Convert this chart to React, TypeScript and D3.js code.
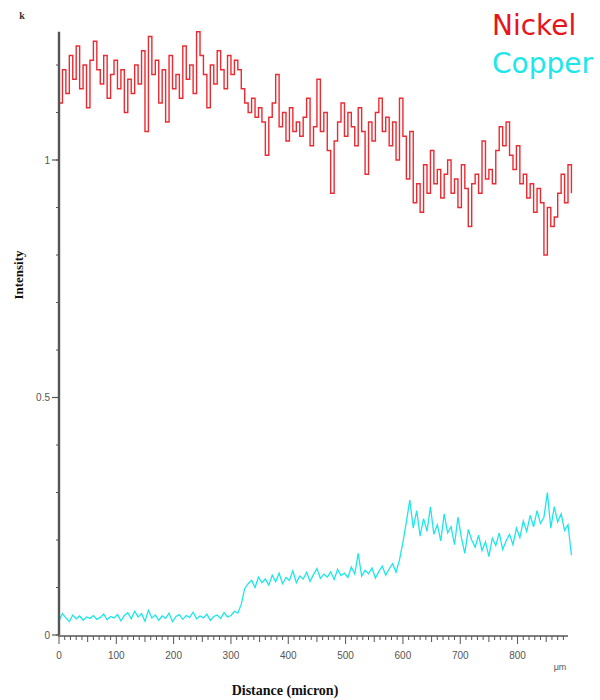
import React from "react";
import * as d3 from "d3";

const STEP = 6; // micron between samples
const nickel = [
  1.12, 1.19, 1.14, 1.22, 1.17, 1.24, 1.15, 1.20, 1.11, 1.21,
  1.25, 1.19, 1.16, 1.22, 1.13, 1.18, 1.21, 1.15, 1.19, 1.10,
  1.17, 1.14, 1.20, 1.16, 1.23, 1.06, 1.26, 1.18, 1.21, 1.12,
  1.19, 1.08, 1.22, 1.15, 1.18, 1.13, 1.24, 1.17, 1.20, 1.14,
  1.27, 1.22, 1.18, 1.11, 1.20, 1.16, 1.23, 1.19, 1.15, 1.22,
  1.18, 1.21, 1.19, 1.15, 1.12, 1.10, 1.13, 1.09, 1.11, 1.08,
  1.01, 1.09, 1.12, 1.18, 1.07, 1.10, 1.04, 1.11, 1.06, 1.08,
  1.05, 1.09, 1.13, 1.03, 1.07, 1.17, 1.06, 1.10, 1.02, 0.93,
  1.04, 1.08, 1.12, 1.05, 1.10, 1.07, 1.03, 1.11, 1.06, 0.97,
  1.08, 1.04, 1.10, 1.13, 1.06, 1.09, 1.03, 1.08, 1.00, 1.13,
  1.05, 0.96, 1.06, 0.91, 0.95, 0.89, 0.99, 0.93, 1.02, 0.95,
  0.98, 0.92, 0.97, 1.00, 0.93, 0.96, 0.90, 0.99, 0.94, 0.86,
  0.95, 0.97, 0.93, 1.04, 0.96, 0.98, 0.95, 1.02, 1.07, 1.03,
  1.08, 1.01, 0.98, 1.03, 0.95, 0.97, 0.92, 0.95, 0.89, 0.94,
  0.91, 0.80, 0.90, 0.86, 0.88, 0.93, 0.97, 0.91, 0.99, 0.93,
];
const copper = [
  0.030, 0.045, 0.036, 0.028, 0.042, 0.034, 0.040, 0.031, 0.038, 0.035,
  0.041, 0.033, 0.037, 0.044, 0.032, 0.039, 0.036, 0.043, 0.030, 0.041,
  0.047, 0.034, 0.050, 0.038, 0.045, 0.029, 0.052, 0.036, 0.042, 0.031,
  0.040, 0.035, 0.046, 0.028, 0.039, 0.043, 0.033, 0.041, 0.037, 0.048,
  0.034, 0.040, 0.036, 0.044, 0.031, 0.039, 0.042, 0.035, 0.047, 0.038,
  0.041, 0.050, 0.046, 0.065, 0.098, 0.108, 0.115, 0.100, 0.122, 0.110,
  0.118, 0.105, 0.126, 0.112, 0.130, 0.108, 0.121, 0.115, 0.135, 0.110,
  0.124, 0.118, 0.132, 0.113, 0.127, 0.140, 0.119, 0.128, 0.122, 0.133,
  0.117, 0.138, 0.125, 0.130, 0.121, 0.143, 0.128, 0.172, 0.124, 0.136,
  0.129, 0.141, 0.120, 0.134, 0.145, 0.126, 0.139, 0.150, 0.132, 0.158,
  0.195, 0.238, 0.284, 0.225, 0.262, 0.208, 0.245, 0.218, 0.270, 0.212,
  0.232, 0.198, 0.255, 0.215, 0.228, 0.190, 0.248, 0.205, 0.172, 0.222,
  0.200, 0.185, 0.210, 0.178, 0.196, 0.165, 0.204, 0.188, 0.215, 0.180,
  0.198, 0.212, 0.190, 0.225, 0.205, 0.240, 0.218, 0.252, 0.228, 0.262,
  0.235, 0.248, 0.300, 0.225, 0.270, 0.238, 0.255, 0.220, 0.232, 0.168,
];
const xMajorTicks = [0, 100, 200, 300, 400, 500, 600, 700, 800];
const yMajorTicks = [0, 0.5, 1];
const yTickLabels = ["0", "0.5", "1"];
const seriesNames = ["Nickel", "Copper"];
const seriesColors = ["#e8141c", "#1ee6ea"];

export default function App() {
  const x = d3.scaleLinear().domain([0, 888]).range([59, 568]);
  const y = d3.scaleLinear().domain([0, 1.27]).range([635, 635 - 1.27 * 475]);
  const stepLine = d3
    .line<number>()
    .x((_, i) => x(i * STEP))
    .y((d) => y(d))
    .curve(d3.curveStepAfter);
  const linLine = d3
    .line<number>()
    .x((_, i) => x(i * STEP))
    .y((d) => y(d));

  const xMinor = d3.range(0, 889, 10);
  const yMinor = d3.range(0, 1.2601, 0.1);
  const axisColor = "#555";
  const tickFont = "'Liberation Sans', Arial, sans-serif";

  return (
    <svg
      width={600}
      height={700}
      style={{ position: "absolute", left: 0, top: 0, background: "#fff" }}
    >
      <rect width={600} height={700} fill="#fff" />
      {/* series */}
      <path d={stepLine(nickel) || ""} fill="none" stroke={seriesColors[0]} strokeWidth={1.4} strokeOpacity={0.9} />
      <path d={linLine(copper) || ""} fill="none" stroke={seriesColors[1]} strokeWidth={1.3} />

      {/* y axis */}
      <line x1={x(0)} x2={x(0)} y1={y(0)} y2={y(1.27)} stroke={axisColor} strokeWidth={2.4} />
      {yMinor.map((v, i) => (
        <line key={"ym" + i} x1={x(0) - 3} x2={x(0)} y1={y(v)} y2={y(v)} stroke={axisColor} strokeWidth={1} />
      ))}
      {yMajorTicks.map((v, i) => (
        <g key={"yM" + i}>
          <line x1={x(0) - 7} x2={x(0)} y1={y(v)} y2={y(v)} stroke={axisColor} strokeWidth={1.2} />
          <text x={x(0) - 9} y={y(v) + 3.5} textAnchor="end" fontSize={10} fill="#555" fontFamily={tickFont}>
            {yTickLabels[i]}
          </text>
        </g>
      ))}

      {/* x axis */}
      <line x1={x(0) - 1} x2={x(888)} y1={y(0) + 1} y2={y(0) + 1} stroke={axisColor} strokeWidth={1.6} />
      {xMinor.map((v) => {
        const len = v % 100 === 0 ? 8 : v % 50 === 0 ? 6 : 4;
        return (
          <line key={"xm" + v} x1={x(v)} x2={x(v)} y1={y(0) + 1} y2={y(0) + 1 + len} stroke={axisColor} strokeWidth={1} />
        );
      })}
      {xMajorTicks.map((v) => (
        <text key={"xl" + v} x={x(v)} y={y(0) + 24} textAnchor="middle" fontSize={10} fill="#555" fontFamily={tickFont}>
          {v}
        </text>
      ))}
      <text x={560} y={670} textAnchor="middle" fontSize={9} fill="#555" fontFamily={tickFont}>
        μm
      </text>

      {/* titles */}
      <text x={22} y={19} textAnchor="middle" fontSize={10} fontWeight="bold" fill="#333" fontFamily="'Liberation Serif', 'Times New Roman', serif">
        k
      </text>
      <text
        transform="translate(23,275) rotate(-90)"
        textAnchor="middle"
        fontSize={13}
        fontWeight="bold"
        fill="#111"
        fontFamily="'Liberation Serif', 'Times New Roman', serif"
      >
        Intensity
      </text>
      <text x={285} y={695} textAnchor="middle" fontSize={14} fontWeight="bold" fill="#111" fontFamily="'Liberation Serif', 'Times New Roman', serif">
        Distance (micron)
      </text>

      {/* legend */}
      {seriesNames.map((n, i) => (
        <text key={n} x={492} y={35 + i * 38} fontSize={28} fill={seriesColors[i]} fontFamily="'DejaVu Sans', Verdana, sans-serif">
          {n}
        </text>
      ))}
    </svg>
  );
}
